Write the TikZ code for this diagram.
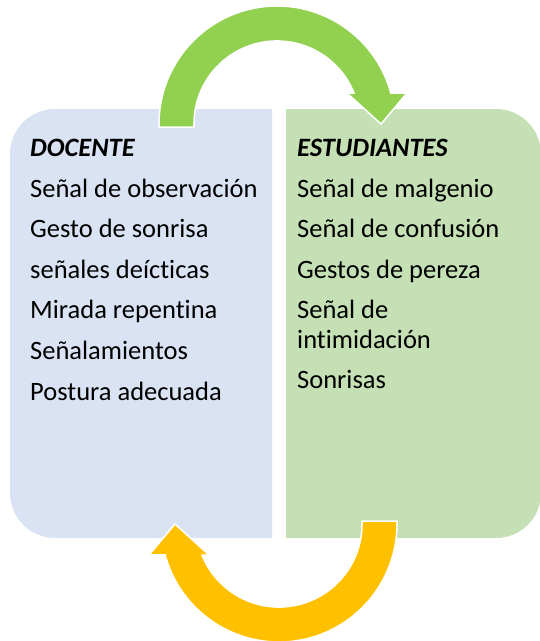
\documentclass[tikz,border=0pt]{standalone}
\usepackage{fontspec}
\setmainfont{Carlito}[Ligatures={NoCommon,NoRare,NoContextual}]
\definecolor{boxblue}{HTML}{DAE3F3}
\definecolor{boxgreen}{HTML}{C5E0B4}
\definecolor{arrgreen}{HTML}{92D050}
\definecolor{arrorange}{HTML}{FFC000}
\newcommand\myarrowpath{(159,-127) -- (159,-124) arc[start angle=180, end angle=15.2, radius=118] -- (407,-93) -- (381,-124) -- (347,-93) -- (354,-93) arc[start angle=21.9, end angle=180, radius=83] -- (194,-127) -- cycle}
\tikzset{
  txt/.style={anchor=base west, inner sep=0pt, font=\fontsize{26.5}{30}\selectfont},
  hdr/.style={txt, font=\fontsize{26.5}{30}\selectfont\bfseries\itshape},
  arrowshape/.style={draw=white, line width=1.5pt, line join=miter}
}
\begin{document}
\begin{tikzpicture}[x=1pt,y=1pt]
\useasboundingbox (0,0) rectangle (540,-641);
% boxes
\fill[boxblue] (272,-109) -- (55,-109) arc[start angle=90,end angle=180,radius=45] -- (10,-493) arc[start angle=180,end angle=270,radius=45] -- (272,-538) -- cycle;
\fill[boxgreen] (286,-109) -- (496,-109) arc[start angle=90,end angle=0,radius=45] -- (541,-493) arc[start angle=0,end angle=-90,radius=45] -- (286,-538) -- cycle;
% arrows
\path[arrowshape, fill=arrgreen] \myarrowpath;
\begin{scope}[rotate around={180:(278,-324)}]
\path[arrowshape, fill=arrorange] \myarrowpath;
\end{scope}
% left text
\node[hdr] (d0) at (30,-156) {DOCENTE};
\node[txt] (d1) at (30,-197) {Señal de observación};
\node[txt] (d2) at (30,-237) {Gesto de sonrisa};
\node[txt] (d3) at (30,-278) {señales deícticas};
\node[txt] (d4) at (30,-318) {Mirada repentina};
\node[txt] (d5) at (30,-359) {Señalamientos};
\node[txt] (d6) at (30,-400) {Postura adecuada};
% right text
\node[hdr] (e0) at (297,-156) {ESTUDIANTES};
\node[txt] (e1) at (297,-197) {Señal de malgenio};
\node[txt] (e2) at (297,-237) {Señal de confusión};
\node[txt] (e3) at (297,-278) {Gestos de pereza};
\node[txt] (e4) at (297,-318) {Señal de};
\node[txt] (e5) at (297,-348) {intimidación};
\node[txt] (e6) at (297,-388) {Sonrisas};
\end{tikzpicture}
\end{document}
